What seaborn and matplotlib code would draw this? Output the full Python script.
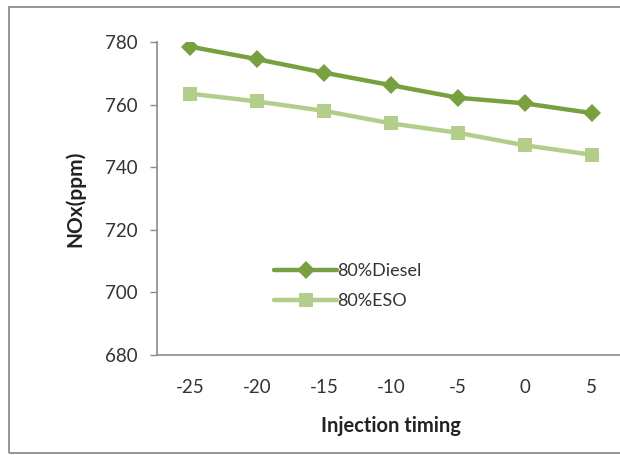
import matplotlib
matplotlib.use("Agg")
import matplotlib.pyplot as plt
import seaborn as sns
import pandas as pd
from matplotlib.patches import Rectangle

timing = ["-25", "-20", "-15", "-10", "-5", "0", "5"]
diesel = [778.5, 774.5, 770.2, 766.2, 762.2, 760.4, 757.3]
eso = [763.5, 761.0, 758.0, 754.0, 751.0, 747.0, 744.0]
series_names = ["80%Diesel", "80%ESO"]

sns.set_theme(style="white")
plt.rcParams['font.family'] = ['Lato', 'DejaVu Sans']

fig = plt.figure(figsize=(6.2, 4.55), dpi=100)
W, H = 620, 455
left, right, top, bottom = 157, 625, 42, 355
ax = fig.add_axes([left / W, 1 - bottom / H, (right - left) / W, (bottom - top) / H])

x = list(range(len(timing)))
df = pd.DataFrame({"x": x * 2, "y": diesel + eso,
                   "s": [series_names[0]] * len(x) + [series_names[1]] * len(x)})

c_d = "#78A040"
c_e = "#B3CE8B"
sns.lineplot(data=df[df.s == series_names[0]], x="x", y="y", ax=ax, color=c_d,
             lw=3.2, marker="D", markersize=9.5, markeredgewidth=0, label=series_names[0])
sns.lineplot(data=df[df.s == series_names[1]], x="x", y="y", ax=ax, color=c_e,
             lw=3.2, marker="s", markersize=10, markeredgewidth=0, label=series_names[1])

ax.set_xlim(-0.5, 6.5)
ax.set_ylim(680, 780)
ax.set_yticks([680, 700, 720, 740, 760, 780])
ax.set_xticks(x)
ax.set_xticklabels(timing)
for s in ["top", "right"]:
    ax.spines[s].set_visible(False)
for s in ["left", "bottom"]:
    ax.spines[s].set_color("#8c8c8c")
    ax.spines[s].set_linewidth(1.2)
ax.tick_params(axis="y", length=5, width=1.0, color="#8c8c8c", left=True,
               labelsize=13.5, labelcolor="#333333", pad=9)
ax.tick_params(axis="x", length=0, labelsize=13.5, labelcolor="#333333", pad=17)
ax.set_xlabel("Injection timing", fontsize=14.5, fontweight="bold", color="#222222", labelpad=15)
ax.set_ylabel("NOx(ppm)", fontsize=15, fontweight="bold", color="#222222", labelpad=14)

leg = ax.legend(loc="upper left", bbox_to_anchor=(265 / W, 1 - 254 / H),
                bbox_transform=fig.transFigure, frameon=False, fontsize=13,
                handlelength=3.5, handletextpad=0.0, labelspacing=0.8, borderpad=0)
for t in leg.get_texts():
    t.set_color("#333333")

fig.patches.append(Rectangle((8.5 / W, 1 - 453 / H), 1.0, (453 - 6.5) / H,
                             transform=fig.transFigure, fill=False,
                             edgecolor="#8c8c8c", lw=1.3))
fig.savefig("out.png", dpi=100)
